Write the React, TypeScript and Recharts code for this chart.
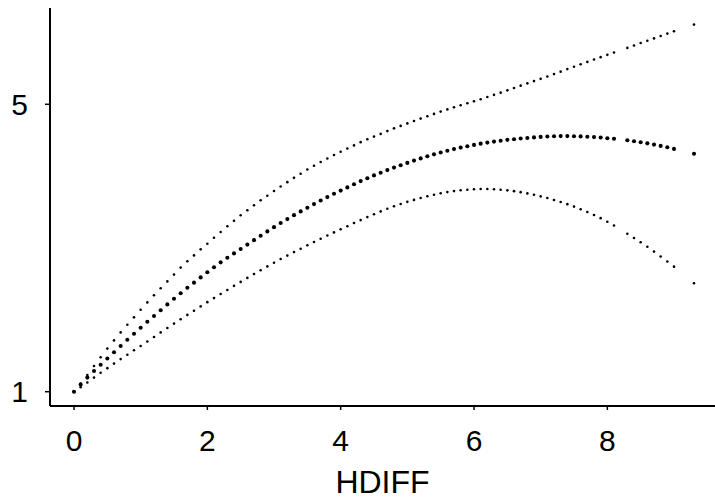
import React from "react";
import { ScatterChart, Scatter, XAxis, YAxis, Label } from "recharts";

const HDIFF = [
  0.0, 0.1, 0.2, 0.3, 0.4, 0.5, 0.6, 0.7, 0.8, 0.9,
  1.0, 1.1, 1.2, 1.3, 1.4, 1.5, 1.6, 1.7, 1.8, 1.9,
  2.0, 2.1, 2.2, 2.3, 2.4, 2.5, 2.6, 2.7, 2.8, 2.9,
  3.0, 3.1, 3.2, 3.3, 3.4, 3.5, 3.6, 3.7, 3.8, 3.9,
  4.0, 4.1, 4.2, 4.3, 4.4, 4.5, 4.6, 4.7, 4.8, 4.9,
  5.0, 5.1, 5.2, 5.3, 5.4, 5.5, 5.6, 5.7, 5.8, 5.9,
  6.0, 6.1, 6.2, 6.3, 6.4, 6.5, 6.6, 6.7, 6.8, 6.9,
  7.0, 7.1, 7.2, 7.3, 7.4, 7.5, 7.6, 7.7, 7.8, 7.9,
  8.0, 8.1,
  8.3, 8.4, 8.5, 8.6, 8.7, 8.8, 8.9, 9.0,
  9.3,
];

const UPPER = [
  1.000, 1.114, 1.232, 1.358, 1.479, 1.600, 1.714, 1.825, 1.931, 2.035,
  2.140, 2.243, 2.342, 2.439, 2.535, 2.630, 2.727, 2.815, 2.897, 2.981,
  3.060, 3.143, 3.223, 3.302, 3.380, 3.455, 3.525, 3.594, 3.664, 3.728,
  3.793, 3.856, 3.916, 3.976, 4.034, 4.093, 4.145, 4.197, 4.246, 4.294,
  4.340, 4.385, 4.428, 4.473, 4.513, 4.550, 4.588, 4.627, 4.665, 4.699,
  4.734, 4.768, 4.801, 4.834, 4.866, 4.898, 4.929, 4.958, 4.986, 5.014,
  5.042, 5.071, 5.102, 5.131, 5.162, 5.194, 5.227, 5.259, 5.291, 5.323,
  5.354, 5.386, 5.420, 5.454, 5.490, 5.523, 5.557, 5.590, 5.624, 5.656,
  5.688, 5.721,
  5.785, 5.818, 5.852, 5.884, 5.917, 5.951, 5.984, 6.017,
  6.109,
];

const MIDDLE = [
  1.000, 1.099, 1.196, 1.288, 1.376, 1.463, 1.550, 1.636, 1.722, 1.807,
  1.891, 1.973, 2.054, 2.134, 2.215, 2.293, 2.370, 2.446, 2.518, 2.591,
  2.662, 2.733, 2.800, 2.864, 2.925, 2.986, 3.047, 3.109, 3.170, 3.231,
  3.290, 3.347, 3.402, 3.457, 3.509, 3.561, 3.611, 3.660, 3.708, 3.754,
  3.799, 3.843, 3.888, 3.931, 3.971, 4.010, 4.048, 4.084, 4.119, 4.152,
  4.184, 4.216, 4.247, 4.276, 4.303, 4.328, 4.353, 4.376, 4.397, 4.417,
  4.435, 4.452, 4.467, 4.481, 4.493, 4.505, 4.514, 4.523, 4.531, 4.539,
  4.546, 4.552, 4.555, 4.557, 4.557, 4.556, 4.553, 4.549, 4.543, 4.537,
  4.528, 4.520,
  4.499, 4.485, 4.471, 4.456, 4.439, 4.421, 4.402, 4.379,
  4.311,
];

const LOWER = [
  1.000, 1.063, 1.129, 1.196, 1.263, 1.328, 1.391, 1.454, 1.515, 1.576,
  1.636, 1.699, 1.761, 1.825, 1.887, 1.948, 2.009, 2.069, 2.127, 2.187,
  2.246, 2.303, 2.360, 2.415, 2.473, 2.528, 2.584, 2.638, 2.691, 2.744,
  2.795, 2.846, 2.894, 2.943, 2.990, 3.038, 3.084, 3.128, 3.173, 3.217,
  3.260, 3.303, 3.347, 3.388, 3.430, 3.470, 3.509, 3.546, 3.580, 3.612,
  3.642, 3.669, 3.696, 3.720, 3.742, 3.761, 3.778, 3.792, 3.803, 3.811,
  3.817, 3.820, 3.820, 3.817, 3.811, 3.802, 3.791, 3.777, 3.760, 3.740,
  3.718, 3.695, 3.668, 3.640, 3.610, 3.576, 3.540, 3.501, 3.459, 3.415,
  3.365, 3.312,
  3.198, 3.139, 3.079, 3.017, 2.950, 2.882, 2.812, 2.740,
  2.509,
];

const X_TICKS = [0, 2, 4, 6, 8];
const Y_TICKS = [1, 5];
const X_LABEL = "HDIFF";

const X_DOMAIN: [number, number] = [-0.36, 9.615];
const Y_DOMAIN: [number, number] = [0.801, 6.34];

const toPoints = (ys: number[]) => HDIFF.map((x, i) => ({ x, y: ys[i] }));
const upperData = toPoints(UPPER);
const middleData = toPoints(MIDDLE);
const lowerData = toPoints(LOWER);

const FONT = "'Liberation Sans', Arial, Helvetica, sans-serif";

const smallDot = (p: any) => <circle cx={p.cx} cy={p.cy} r={1.3} fill="#000" />;
const bigDot = (p: any) => <circle cx={p.cx} cy={p.cy} r={2.05} fill="#000" />;

export default function App() {
  return (
    <div style={{ position: "absolute", left: 0, top: 0, width: 715, height: 501, background: "#fff" }}>
      <ScatterChart width={715} height={501} margin={{ top: 8, right: 0, bottom: 0, left: 0 }}>
        <XAxis
          dataKey="x"
          type="number"
          domain={X_DOMAIN}
          ticks={X_TICKS}
          allowDataOverflow
          height={95}
          axisLine={{ stroke: "#000", strokeWidth: 2 }}
          tickLine={{ stroke: "#000", strokeWidth: 1.5 }}
          tickSize={4}
          tickMargin={20}
          tick={{ fontSize: 30, fill: "#000", fontFamily: FONT }}
        >
          <Label value={X_LABEL} position="insideBottom" offset={8} style={{ fontSize: 32, fill: "#000", fontFamily: FONT }} />
        </XAxis>
        <XAxis
          xAxisId="top"
          orientation="top"
          type="number"
          domain={X_DOMAIN}
          allowDataOverflow
          height={0}
          tick={false}
          tickLine={false}
          axisLine={{ stroke: "#000", strokeWidth: 2 }}
        />
        <YAxis
          dataKey="y"
          type="number"
          domain={Y_DOMAIN}
          ticks={Y_TICKS}
          allowDataOverflow
          width={50}
          axisLine={{ stroke: "#000", strokeWidth: 2 }}
          tickLine={{ stroke: "#000", strokeWidth: 1.5 }}
          tickSize={5}
          tickMargin={17}
          tick={{ fontSize: 30, fill: "#000", fontFamily: FONT }}
        />
        <Scatter data={upperData} shape={smallDot} isAnimationActive={false} />
        <Scatter data={middleData} shape={bigDot} isAnimationActive={false} />
        <Scatter data={lowerData} shape={smallDot} isAnimationActive={false} />
      </ScatterChart>
    </div>
  );
}
